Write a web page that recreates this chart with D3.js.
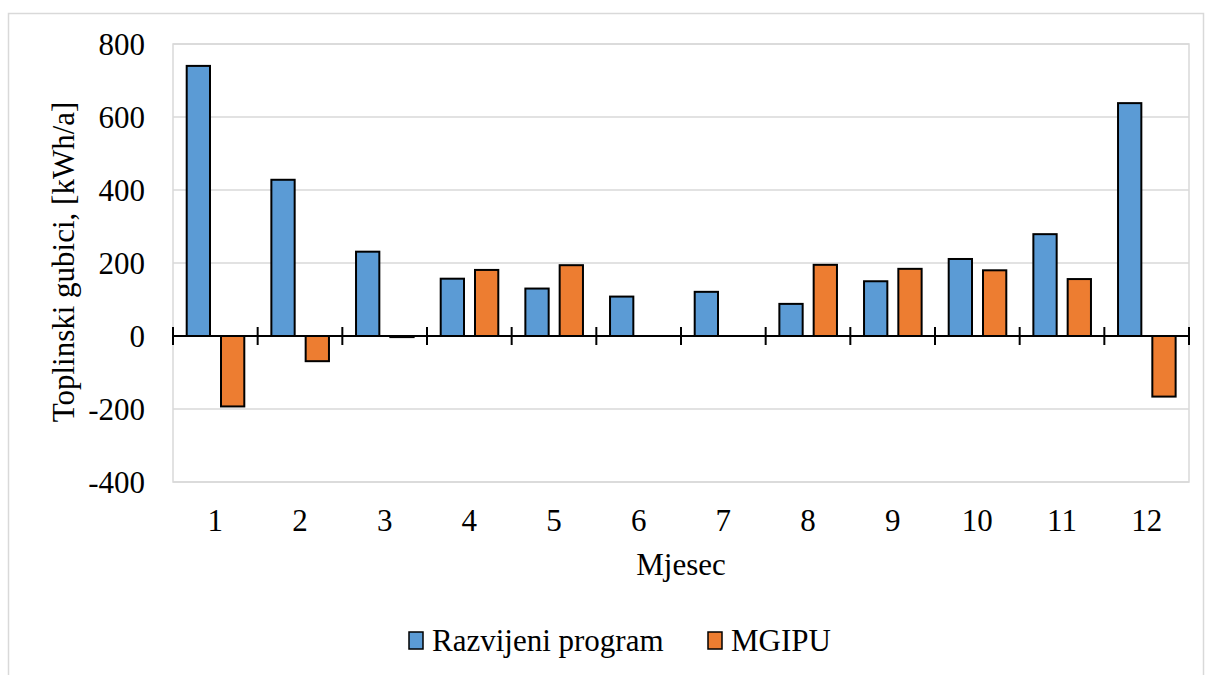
<!DOCTYPE html>
<html><head><meta charset="utf-8">
<script src="https://cdn.jsdelivr.net/npm/d3@7"></script>
<style>body{margin:0;background:#fff}svg{display:block}</style>
</head><body>
<svg id="c" width="1207" height="675" font-family="'Liberation Serif', 'Times New Roman', 'DejaVu Serif', serif"></svg>
<script>
const months = ["1","2","3","4","5","6","7","8","9","10","11","12"];
const seriesNames = ["Razvijeni program","MGIPU"];
const razvijeni = [740, 428, 231, 157, 130, 108, 121, 88, 150, 211, 279, 638];
const mgipu = [-193, -69, -3, 181, 194, 0, 0, 195, 184, 180, 156, -166];
const yTicks = [-400, -200, 0, 200, 400, 600, 800];
const colors = ["#5b9bd5", "#ed7d31"];

const svg = d3.select("#c");
const FONT = "'Liberation Serif', 'Times New Roman', 'DejaVu Serif', serif";
const FS = 31;
const L = 173, R = 1189, T = 44, B = 482;

svg.append("rect").attr("x",8.5).attr("y",13.5).attr("width",1195).attr("height",700)
  .attr("fill","#fff").attr("stroke","#d9d9d9").attr("stroke-width",1.5);

const x = d3.scaleBand().domain(months).range([L, R]);
const y = d3.scaleLinear().domain([-400, 800]).range([B, T]);

svg.append("rect").attr("x",L).attr("y",T).attr("width",R-L).attr("height",B-T)
  .attr("fill","none").attr("stroke","#d9d9d9").attr("stroke-width",1.5);

svg.append("g").selectAll("line").data(yTicks.filter(d=>d!==0)).join("line")
  .attr("x1",L).attr("x2",R).attr("y1",d=>y(d)).attr("y2",d=>y(d))
  .attr("stroke","#d9d9d9").attr("stroke-width",1.5);

svg.append("g").selectAll("text").data(yTicks).join("text")
  .attr("font-family",FONT).attr("font-size",FS)
  .attr("x",145).attr("y",d=>y(d)+11).attr("text-anchor","end").text(d=>d);

const bw = 23.3, inner = 13.7, gap = 11;
[razvijeni, mgipu].forEach((vals, si) => {
  svg.append("g").selectAll("rect").data(vals).join("rect")
    .attr("x",(d,i)=>x(months[i]) + inner + si*(bw+gap))
    .attr("y",d=>y(Math.max(0,d)))
    .attr("width",bw)
    .attr("height",d=>Math.abs(y(d)-y(0)))
    .attr("fill",colors[si]).attr("stroke","#000").attr("stroke-width",2);
});

svg.append("line").attr("x1",L).attr("x2",R).attr("y1",y(0)).attr("y2",y(0))
  .attr("stroke","#000").attr("stroke-width",2);
const tickPos = months.map(m=>x(m)).concat([R]);
svg.append("g").selectAll("line").data(tickPos).join("line")
  .attr("x1",d=>d).attr("x2",d=>d).attr("y1",y(0)-9).attr("y2",y(0)+9)
  .attr("stroke","#000").attr("stroke-width",2);

svg.append("g").selectAll("text").data(months).join("text")
  .attr("font-family",FONT).attr("font-size",FS)
  .attr("x",d=>x(d)+x.bandwidth()/2).attr("y",531).attr("text-anchor","middle").text(d=>d);

svg.append("text").attr("font-family",FONT).attr("font-size",FS)
  .attr("x",(L+R)/2).attr("y",575).attr("text-anchor","middle").text("Mjesec");
svg.append("text").attr("font-family",FONT).attr("font-size",FS)
  .attr("transform","translate(74,262) rotate(-90)").attr("text-anchor","middle")
  .text("Toplinski gubici, [kWh/a]");

const legX = [409, 708];
seriesNames.forEach((n,i)=>{
  svg.append("rect").attr("x",legX[i]).attr("y",632).attr("width",14).attr("height",17)
    .attr("fill",colors[i]).attr("stroke","#000").attr("stroke-width",1.5);
  svg.append("text").attr("font-family",FONT).attr("font-size",FS)
    .attr("x",legX[i]+23).attr("y",651).text(n);
});
</script>
</body></html>
